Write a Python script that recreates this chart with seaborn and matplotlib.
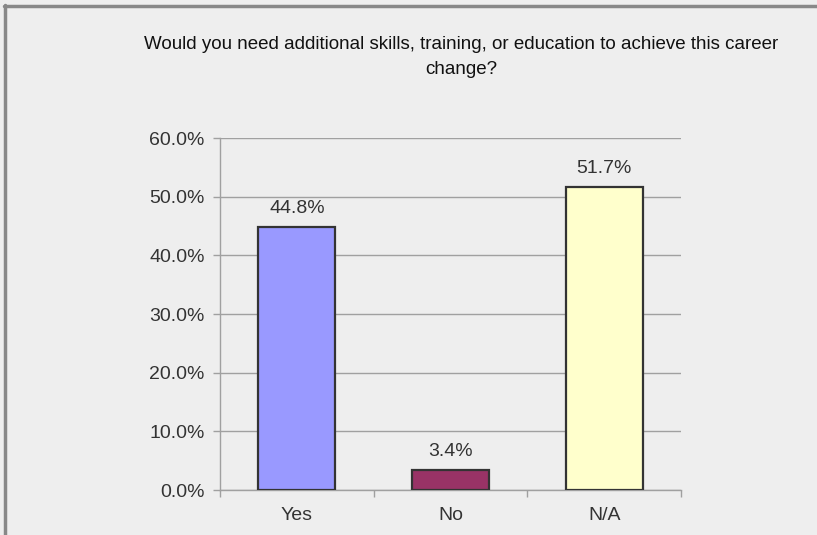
import matplotlib
matplotlib.use("Agg")
import matplotlib.pyplot as plt
from matplotlib.lines import Line2D
from matplotlib.ticker import FixedLocator
import seaborn as sns
import pandas as pd

categories = ["Yes", "No", "N/A"]
percentages = [44.8, 3.4, 51.7]
bar_colors = ["#9999FF", "#993366", "#FFFFCC"]
y_ticks = [0, 10, 20, 30, 40, 50, 60]
y_tick_labels = ["0.0%", "10.0%", "20.0%", "30.0%", "40.0%", "50.0%", "60.0%"]
title = "Would you need additional skills, training, or education to achieve this career\nchange?"

sns.set_theme(style="white")
plt.rcParams["font.family"] = ["Liberation Sans", "DejaVu Sans"]

bg = "#EEEEEE"
axis_gray = "#A0A0A0"
text_dark = "#333333"

df = pd.DataFrame({"answer": categories, "pct": percentages})

fig = plt.figure(figsize=(8.17, 5.35), dpi=100, facecolor=bg)
ax = fig.add_axes([0.2693, 0.0841, 0.8335 - 0.2693, 0.742 - 0.0841])
ax.set_facecolor(bg)

sns.barplot(data=df, x="answer", y="pct", hue="answer", palette=bar_colors,
            width=0.5, edgecolor="#333333", linewidth=1.6, legend=False,
            saturation=1, ax=ax, zorder=3)

ax.set_ylim(0, 60)
ax.set_xlim(-0.5, 2.5)
ax.set_yticks(y_ticks)
ax.set_yticklabels(y_tick_labels)
ax.yaxis.grid(True, color=axis_gray, linewidth=1.0, zorder=0)
ax.set_axisbelow(True)
ax.set_xlabel("")
ax.set_ylabel("")

for side in ["top", "right"]:
    ax.spines[side].set_visible(False)
for side in ["left", "bottom"]:
    ax.spines[side].set_color(axis_gray)
    ax.spines[side].set_linewidth(1.0)

ax.tick_params(axis="y", direction="out", length=5, width=1.0, color=axis_gray,
               labelsize=14, labelcolor=text_dark, pad=6, left=True)
ax.tick_params(axis="x", which="major", length=0, labelsize=14,
               labelcolor=text_dark, pad=12)
ax.xaxis.set_minor_locator(FixedLocator([-0.5, 0.5, 1.5, 2.5]))
ax.tick_params(axis="x", which="minor", direction="out", length=5, width=1.0,
               color=axis_gray, bottom=True)

for i, v in enumerate(percentages):
    ax.annotate(f"{v:.1f}%", xy=(i, v), xytext=(0, 7), textcoords="offset points",
                ha="center", va="bottom", fontsize=14, color=text_dark)

fig.text(0.565, 0.893, title, ha="center", va="center", fontsize=13.5,
         fontweight="medium", color="#111111", linespacing=1.65)

# frame lines along the top and left edges
fig.add_artist(Line2D([0.005, 1.0], [0.9888, 0.9888], transform=fig.transFigure,
                      color="#888888", linewidth=2.5))
fig.add_artist(Line2D([0.0061, 0.0061], [0.0, 0.99], transform=fig.transFigure,
                      color="#888888", linewidth=2.5))

fig.savefig("out.png", dpi=100, facecolor=bg)
